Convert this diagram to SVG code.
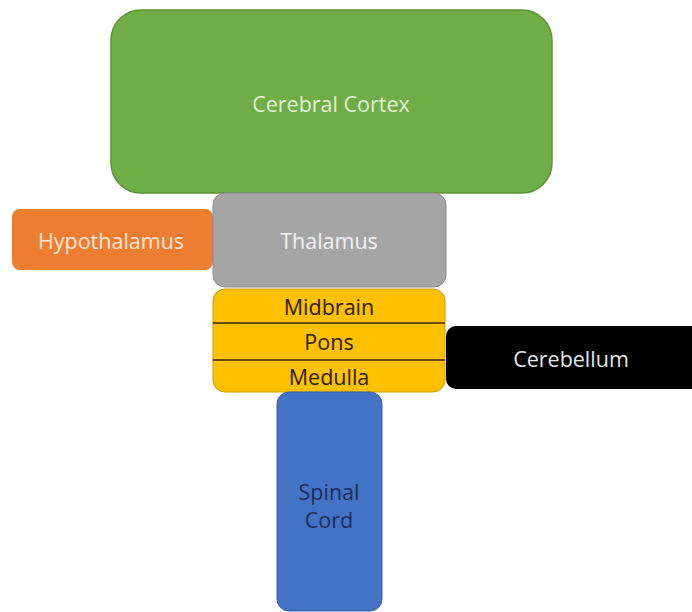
<svg xmlns="http://www.w3.org/2000/svg" width="692" height="612" viewBox="0 0 692 612">
<style>
text{font-family:"Open Sans",Lato,"Liberation Sans",sans-serif;font-size:21.5px;text-anchor:middle;dominant-baseline:central}
.light{fill:#F2F2F2}
.dark{fill:#2B2100}
</style>
<rect width="692" height="612" fill="#FFFFFF"/>
<g id="cortex">
<rect x="111" y="10" width="441" height="183" rx="30" fill="#70AD47" stroke="#5E9438" stroke-width="1.5"/>
<text x="331" y="103" fill="#E2F0D9">Cerebral Cortex</text>
</g>
<g id="hypothalamus">
<rect x="12" y="209" width="201" height="61" rx="8" fill="#ED7D31"/>
<text x="111" y="240" fill="#FBE5D6">Hypothalamus</text>
</g>
<g id="thalamus">
<rect x="213" y="193" width="233" height="94" rx="12" fill="#A5A5A5" stroke="#8E8E8E" stroke-width="1"/>
<text x="329" y="240" class="light">Thalamus</text>
</g>
<g id="brainstem">
<rect x="213" y="289" width="232" height="103" rx="12" fill="#FFC000" stroke="#C99A00" stroke-width="1"/>
<line x1="213" y1="323" x2="445" y2="323" stroke="#3A2A00" stroke-width="1.5"/>
<line x1="213" y1="360" x2="445" y2="360" stroke="#3A2A00" stroke-width="1.5"/>
<text x="329" y="306" class="dark">Midbrain</text>
<text x="329" y="341" class="dark">Pons</text>
<text x="329" y="376" class="dark">Medulla</text>
</g>
<g id="cerebellum">
<rect x="446" y="326" width="260" height="63" rx="10" fill="#000000"/>
<text x="571" y="358" fill="#E6E6E6">Cerebellum</text>
</g>
<g id="spinal-cord">
<rect x="277" y="392" width="105" height="219" rx="12" fill="#4472C4" stroke="#3A62A8" stroke-width="1"/>
<text x="329" y="491" fill="#1C2D5A">Spinal</text>
<text x="329" y="519" fill="#1C2D5A">Cord</text>
</g>
<g id="connectors"></g>
</svg>
